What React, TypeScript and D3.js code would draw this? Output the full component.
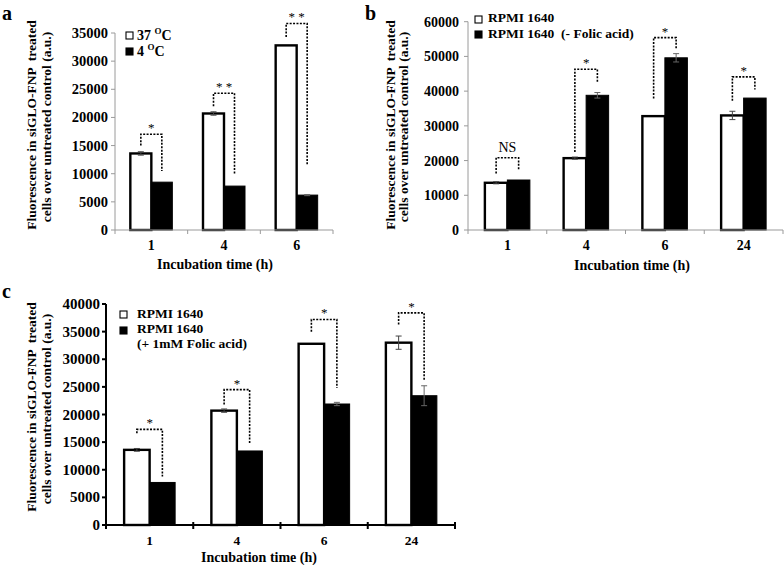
import React from "react";
import * as d3 from "d3";

// ---------- Panel a data ----------
const catsA = ["1", "4", "6"];
const a37 = [13600, 20700, 32800];
const a37Err = [300, 300, 0];
const a4 = [8500, 7800, 6200];
const a4Err = [0, 0, 100];
// [left leg bottom, bracket top, right leg bottom]
const aBrackets = [
  [15000, 17000, 10500],
  [22000, 24300, 9800],
  [34300, 36700, 11500],
];
const aMarks = ["*", "* *", "* *"];
const aTicks = [0, 5000, 10000, 15000, 20000, 25000, 30000, 35000];

// ---------- Panel b data ----------
const catsB = ["1", "4", "6", "24"];
const bRpmi = [13600, 20700, 32800, 33000];
const bRpmiErr = [300, 300, 0, 1200];
const bNoFolic = [14400, 38800, 49600, 38000];
const bNoFolicErr = [0, 800, 1200, 0];
const bBrackets = [
  [16300, 20800, 17300],
  [22500, 46300, 42700],
  [37900, 55400, 52300],
  [37200, 44100, 40500],
];
const bMarks = ["NS", "*", "*", "*"];
const bTicks = [0, 10000, 20000, 30000, 40000, 50000, 60000];

// ---------- Panel c data ----------
const catsC = ["1", "4", "6", "24"];
const cRpmi = [13600, 20700, 32800, 33000];
const cRpmiErr = [250, 300, 0, 1200];
const cFolic = [7700, 13400, 21900, 23400];
const cFolicErr = [0, 0, 300, 1800];
const cBrackets = [
  [16600, 17300, 8800],
  [21800, 24500, 14800],
  [35000, 37200, 24800],
  [36300, 38400, 26300],
];
const cMarks = ["*", "*", "*", "*"];
const cTicks = [0, 5000, 10000, 15000, 20000, 25000, 30000, 35000, 40000];

const FONT = "'Liberation Serif', 'Times New Roman', serif";

type PanelProps = {
  cats: string[];
  s1: number[];
  s1Err: number[];
  s2: number[];
  s2Err: number[];
  brackets: number[][];
  marks: string[];
  ticks: number[];
  x0: number;
  x1: number;
  yBottom: number;
  yTop: number;
  barW: number;
  axisColor: string;
  axisWidth: number;
  tickFont: number;
  labelGap: number;
  xLabelY: number;
  xLabelFont: number;
  title: { x: number; y: number };
  ylab: { b1: number; b2: number; cy: number };
  heavy: boolean;
};

function Panel(p: PanelProps) {
  const x = d3.scaleBand<string>().domain(p.cats).range([p.x0, p.x1]);
  const yMax = p.ticks[p.ticks.length - 1];
  const y = d3.scaleLinear().domain([0, yMax]).range([p.yBottom, p.yTop]);
  const bounds = p.cats.map((c) => x(c) as number).concat([p.x1]);
  return (
    <g>
      {/* y label */}
      <text
        transform={`translate(${p.ylab.b1},${p.ylab.cy}) rotate(-90)`}
        textAnchor="middle"
        fontFamily={FONT}
        fontWeight="bold"
        fontSize={13.5}
        style={{ whiteSpace: "pre" }}
      >
        {"Fluorescence in siGLO-FNP  treated"}
      </text>
      <text
        transform={`translate(${p.ylab.b2},${p.ylab.cy + 2}) rotate(-90)`}
        textAnchor="middle"
        fontFamily={FONT}
        fontWeight="bold"
        fontSize={13.5}
      >
        cells over untreated control (a.u.)
      </text>
      {/* bars */}
      {p.cats.map((c, i) => {
        const cx = (x(c) as number) + x.bandwidth() / 2;
        return (
          <g key={c}>
            <rect
              x={cx - p.barW}
              y={y(p.s1[i])}
              width={p.barW}
              height={y(0) - y(p.s1[i])}
              fill="#fff"
              stroke="#000"
              strokeWidth={2.4}
            />
            <rect
              x={cx}
              y={y(p.s2[i])}
              width={p.barW}
              height={y(0) - y(p.s2[i])}
              fill="#000"
              stroke="#000"
              strokeWidth={1}
            />
          </g>
        );
      })}
      {/* error bars */}
      {p.cats.map((c, i) => {
        const cx = (x(c) as number) + x.bandwidth() / 2;
        const items = [
          { xc: cx - p.barW / 2, v: p.s1[i], e: p.s1Err[i], col: "#444" },
          { xc: cx + p.barW / 2, v: p.s2[i], e: p.s2Err[i], col: "#666" },
        ];
        return items
          .filter((it) => it.e > 0)
          .map((it, k) => (
            <g key={c + "e" + k} stroke={it.col} strokeWidth={1}>
              <line x1={it.xc} x2={it.xc} y1={y(it.v - it.e)} y2={y(it.v + it.e)} />
              <line x1={it.xc - 3} x2={it.xc + 3} y1={y(it.v + it.e)} y2={y(it.v + it.e)} />
              <line x1={it.xc - 3} x2={it.xc + 3} y1={y(it.v - it.e)} y2={y(it.v - it.e)} />
            </g>
          ));
      })}
      {/* brackets */}
      {p.cats.map((c, i) => {
        const cx = (x(c) as number) + x.bandwidth() / 2;
        const lx = cx - p.barW / 2;
        const rx = cx + p.barW / 2;
        const [lb, top, rb] = p.brackets[i];
        const isNS = p.marks[i] === "NS";
        return (
          <g key={c + "b"}>
            <path
              d={`M${lx},${y(lb)}V${y(top)}H${rx}V${y(rb)}`}
              fill="none"
              stroke="#000"
              strokeWidth={1.6}
              strokeDasharray="2 1.4"
            />
            <text
              x={(lx + rx) / 2}
              y={y(top) - (isNS ? 6 : 2)}
              textAnchor="middle"
              fontFamily={FONT}
              fontSize={isNS ? 14 : 13}
              fill="#000"
              style={{ whiteSpace: "pre" }}
            >
              {p.marks[i]}
            </text>
          </g>
        );
      })}
      {/* axes */}
      <line
        x1={p.x0 - (p.heavy ? 3 : 0)}
        x2={p.x1}
        y1={p.yBottom}
        y2={p.yBottom}
        stroke={p.axisColor}
        strokeWidth={p.axisWidth}
      />
      <line
        x1={p.x0}
        x2={p.x0}
        y1={p.yBottom}
        y2={p.yTop}
        stroke={p.axisColor}
        strokeWidth={p.axisWidth}
      />
      {p.ticks.map((t) => (
        <g key={"t" + t}>
          <line
            x1={p.x0 - 4}
            x2={p.x0}
            y1={y(t)}
            y2={y(t)}
            stroke={p.axisColor}
            strokeWidth={p.axisWidth}
          />
          <text
            x={p.x0 - p.labelGap}
            y={y(t) + 5}
            textAnchor="end"
            fontFamily={FONT}
            fontWeight="bold"
            fontSize={p.tickFont}
          >
            {t}
          </text>
        </g>
      ))}
      {bounds.map((bx, k) => (
        <line
          key={"xb" + k}
          x1={bx}
          x2={bx}
          y1={p.yBottom - (p.heavy ? 3 : 0)}
          y2={p.yBottom + 4}
          stroke={p.axisColor}
          strokeWidth={p.axisWidth}
        />
      ))}
      {p.cats.map((c) => (
        <text
          key={"xl" + c}
          x={(x(c) as number) + x.bandwidth() / 2}
          y={p.xLabelY}
          textAnchor="middle"
          fontFamily={FONT}
          fontWeight="bold"
          fontSize={p.xLabelFont}
        >
          {c}
        </text>
      ))}
      <text
        x={p.title.x}
        y={p.title.y}
        textAnchor="middle"
        fontFamily={FONT}
        fontWeight="bold"
        fontSize={14}
      >
        Incubation time (h)
      </text>
    </g>
  );
}

function LegendBox({ x, y, black }: { x: number; y: number; black: boolean }) {
  return (
    <rect
      x={x}
      y={y}
      width={7}
      height={7}
      fill={black ? "#000" : "#fff"}
      stroke="#000"
      strokeWidth={1.1}
    />
  );
}

export default function App() {
  const lt = { fontFamily: FONT, fontWeight: "bold" as const, fontSize: 13.5 };
  return (
    <svg
      width={784}
      height={565}
      style={{ position: "absolute", left: 0, top: 0, background: "#fff" }}
    >
      <rect width={784} height={565} fill="#fff" />
      {/* panel labels */}
      <text x={2} y={20} fontFamily={FONT} fontWeight="bold" fontSize={20}>a</text>
      <text x={365} y={20} fontFamily={FONT} fontWeight="bold" fontSize={20}>b</text>
      <text x={2} y={298} fontFamily={FONT} fontWeight="bold" fontSize={20}>c</text>

      <Panel
        cats={catsA}
        s1={a37}
        s1Err={a37Err}
        s2={a4}
        s2Err={a4Err}
        brackets={aBrackets}
        marks={aMarks}
        ticks={aTicks}
        x0={115}
        x1={333}
        yBottom={230}
        yTop={33}
        barW={21}
        axisColor="#9a9a9a"
        axisWidth={1}
        tickFont={14.5}
        labelGap={7}
        xLabelY={250}
        xLabelFont={14}
        title={{ x: 215, y: 269 }}
        ylab={{ b1: 36, b2: 51, cy: 125 }}
        heavy={false}
      />
      <Panel
        cats={catsB}
        s1={bRpmi}
        s1Err={bRpmiErr}
        s2={bNoFolic}
        s2Err={bNoFolicErr}
        brackets={bBrackets}
        marks={bMarks}
        ticks={bTicks}
        x0={468}
        x1={783}
        yBottom={230}
        yTop={21.7}
        barW={22.5}
        axisColor="#9a9a9a"
        axisWidth={1}
        tickFont={14}
        labelGap={9}
        xLabelY={250}
        xLabelFont={14}
        title={{ x: 632, y: 270 }}
        ylab={{ b1: 395, b2: 408, cy: 125 }}
        heavy={false}
      />
      <Panel
        cats={catsC}
        s1={cRpmi}
        s1Err={cRpmiErr}
        s2={cFolic}
        s2Err={cFolicErr}
        brackets={cBrackets}
        marks={cMarks}
        ticks={cTicks}
        x0={106}
        x1={455}
        yBottom={525}
        yTop={304}
        barW={25.5}
        axisColor="#000"
        axisWidth={2}
        tickFont={15}
        labelGap={6}
        xLabelY={545}
        xLabelFont={13.5}
        title={{ x: 259, y: 561.5 }}
        ylab={{ b1: 36, b2: 51, cy: 407 }}
        heavy={true}
      />

      {/* legend a */}
      <LegendBox x={126} y={32} black={false} />
      <text x={137} y={40} {...lt} fontSize={14}>
        37 <tspan fontSize={9} dy={-6}>O</tspan>
        <tspan dy={6}>C</tspan>
      </text>
      <LegendBox x={126} y={48} black={true} />
      <text x={137} y={56} {...lt} fontSize={14}>
        4 <tspan fontSize={9} dy={-6}>O</tspan>
        <tspan dy={6}>C</tspan>
      </text>

      {/* legend b */}
      <LegendBox x={475} y={16} black={false} />
      <text x={488} y={22} {...lt}>RPMI 1640</text>
      <LegendBox x={475} y={31} black={true} />
      <text x={488} y={38} {...lt} style={{ whiteSpace: "pre" }}>
        {"RPMI 1640  (- Folic acid)"}
      </text>

      {/* legend c */}
      <LegendBox x={120} y={311} black={false} />
      <text x={137} y={318} {...lt}>RPMI 1640</text>
      <LegendBox x={120} y={327} black={true} />
      <text x={137} y={333} {...lt}>RPMI 1640</text>
      <text x={137} y={348} {...lt}>(+ 1mM Folic acid)</text>
    </svg>
  );
}
